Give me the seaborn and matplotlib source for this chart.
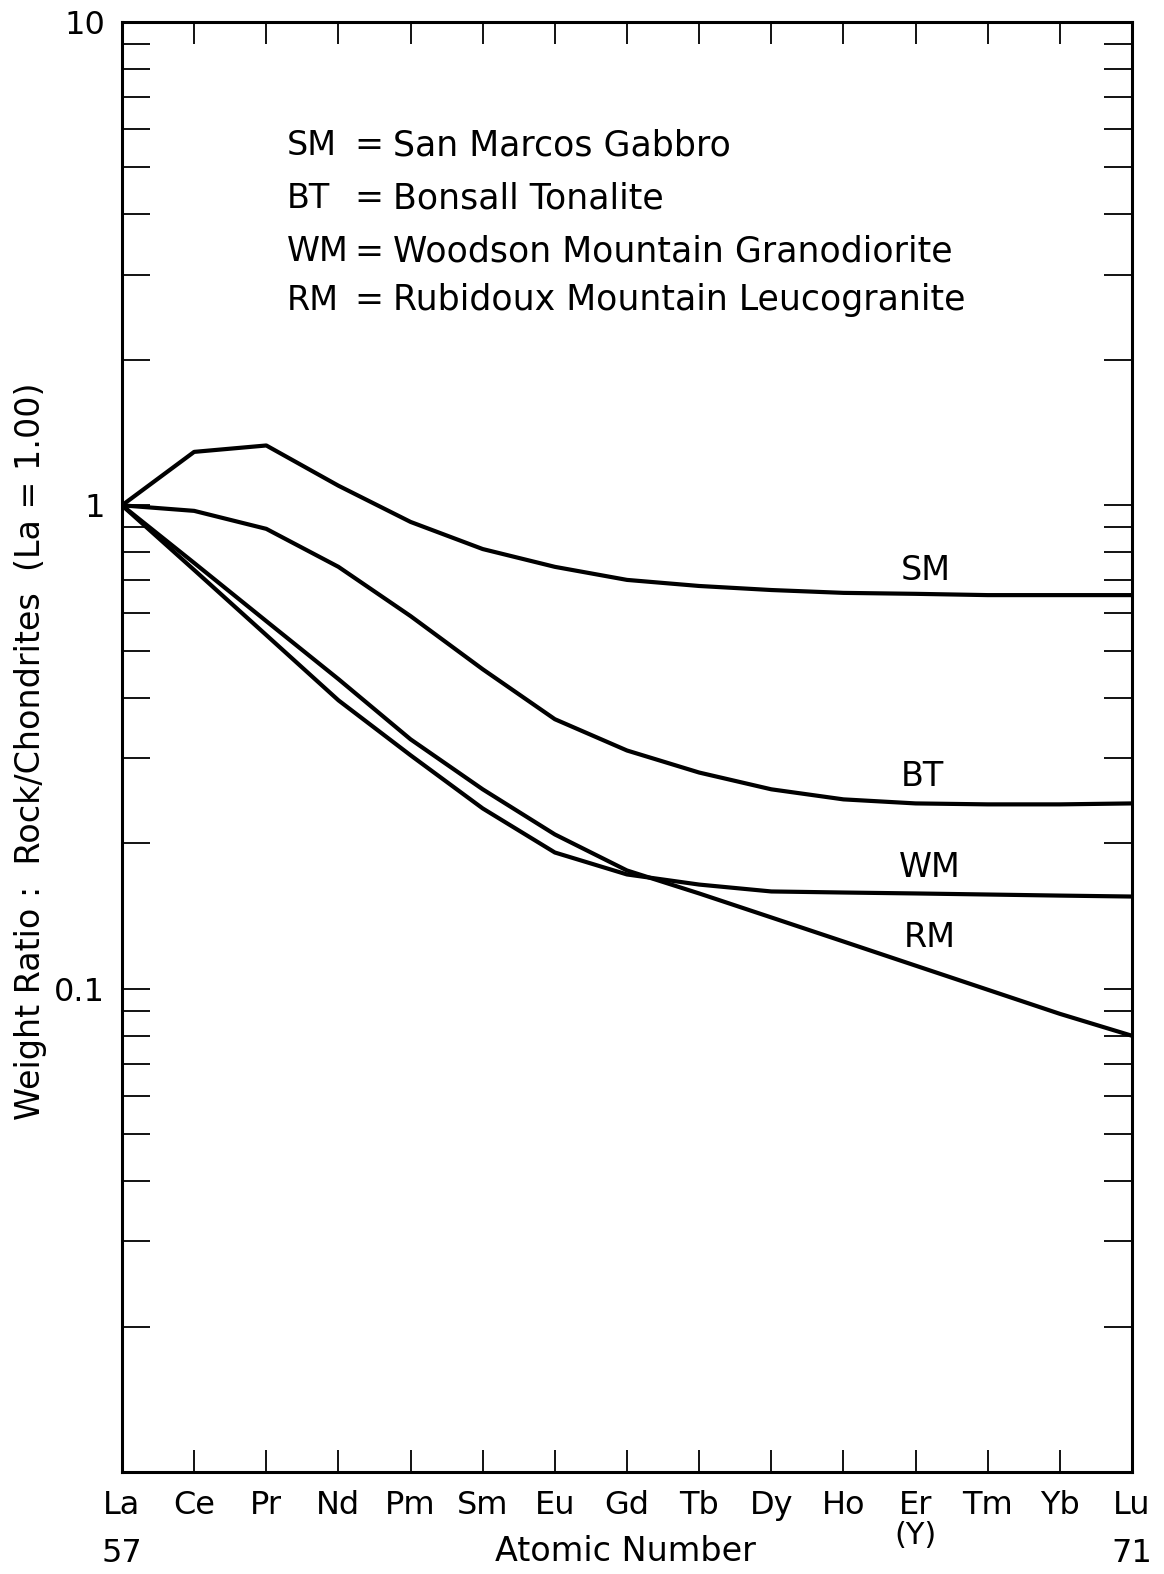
import numpy as np
import pandas as pd
import matplotlib
matplotlib.use("Agg")
import matplotlib.pyplot as plt
import matplotlib.ticker as mticker
import seaborn as sns

# ---- data ----
elements = ["La", "Ce", "Pr", "Nd", "Pm", "Sm", "Eu", "Gd", "Tb", "Dy", "Ho", "Er", "Tm", "Yb", "Lu"]
atomic_numbers = list(range(57, 72))
sm_values = [1.0, 1.29, 1.33, 1.098, 0.924, 0.812, 0.746, 0.701, 0.681, 0.668, 0.659, 0.656, 0.652, 0.652, 0.652]
bt_values = [1.0, 0.974, 0.894, 0.746, 0.590, 0.458, 0.361, 0.311, 0.280, 0.2585, 0.2464, 0.2417, 0.2406, 0.2406, 0.2417]
wm_values = [1.0, 0.735, 0.539, 0.395, 0.304, 0.236, 0.1913, 0.1723, 0.1642, 0.1589, 0.1581, 0.1574, 0.1566, 0.1558, 0.1551]
rm_values = [1.0, 0.760, 0.576, 0.437, 0.328, 0.2585, 0.2085, 0.1756, 0.1574, 0.1404, 0.1252, 0.1116, 0.0995, 0.0887, 0.0799]
series_names = ["SM", "BT", "WM", "RM"]
legend_names = ["San Marcos Gabbro", "Bonsall Tonalite",
                "Woodson Mountain Granodiorite", "Rubidoux Mountain Leucogranite"]
ytick_values = [0.1, 1, 10]
ytick_labels = ["0.1", "1", "10"]

df = pd.concat([
    pd.DataFrame({"z": atomic_numbers, "ratio": vals, "rock": name})
    for name, vals in zip(series_names, [sm_values, bt_values, wm_values, rm_values])
])

sns.set_style("ticks")
plt.rcParams["font.family"] = ["DejaVu Sans"]
plt.rcParams["text.color"] = "black"
plt.rcParams["axes.labelcolor"] = "black"
plt.rcParams["xtick.color"] = "black"
plt.rcParams["ytick.color"] = "black"

fig = plt.figure(figsize=(11.64, 15.74), dpi=100)
ax = fig.add_axes([122 / 1164, 1 - 1472 / 1574, 1010 / 1164, 1450 / 1574])

sns.lineplot(data=df, x="z", y="ratio", hue="rock", palette=["black"] * 4,
             legend=False, linewidth=3.0, ax=ax)

ax.set_yscale("log")
ax.set_ylim(0.01, 10)
ax.set_xlim(57, 71)

ax.set_yticks(ytick_values)
ax.set_yticklabels(ytick_labels)
ax.yaxis.set_minor_locator(mticker.LogLocator(base=10, subs=np.arange(2, 10)))
ax.yaxis.set_minor_formatter(mticker.NullFormatter())

ax.set_xticks(atomic_numbers)
ax.set_xticklabels(elements)

for s in ax.spines.values():
    s.set_visible(True)
    s.set_linewidth(2.2)
    s.set_color("black")

ax.tick_params(axis="y", which="both", direction="in", left=True, right=True,
               length=20, width=1.3, labelsize=23, pad=12, colors="black")
ax.tick_params(axis="x", which="both", direction="in", top=True, bottom=True,
               length=16, width=1.3, labelsize=23, pad=13, colors="black")

# Axis labels
ax.set_xlabel("Atomic Number", fontsize=24, color="black")
ax.xaxis.set_label_coords(0.498, -0.055)
ax.xaxis.label.set_va("center")
ax.set_ylabel("Weight Ratio :  Rock/Chondrites  (La = 1.00)", fontsize=24, color="black")
ax.yaxis.set_label_coords(-0.091, 0.497)
ax.yaxis.label.set_va("center")

# extra numbers under x labels
ax.text(57, -0.0565, "57", transform=ax.get_xaxis_transform(), ha="center", va="center", fontsize=23)
ax.text(71, -0.0565, "71", transform=ax.get_xaxis_transform(), ha="center", va="center", fontsize=23)
ax.text(68, -0.0435, "(Y)", transform=ax.get_xaxis_transform(), ha="center", va="center", fontsize=22)

# legend block
ys = [0.915, 0.8786, 0.8414, 0.808]
for y, ab, nm in zip(ys, series_names, legend_names):
    ax.text(0.163, y, ab, transform=ax.transAxes, ha="left", va="center", fontsize=24)
    ax.text(0.2445, y, "=", transform=ax.transAxes, ha="center", va="center", fontsize=25)
    ax.text(0.268, y, nm, transform=ax.transAxes, ha="left", va="center", fontsize=25)

# curve labels
curve_label_x = [68.14, 68.1, 68.2, 68.2]
curve_label_y = [0.732, 0.275, 0.178, 0.1275]
for ab, lx, ly in zip(series_names, curve_label_x, curve_label_y):
    ax.text(lx, ly, ab, ha="center", va="center", fontsize=24)

fig.savefig("out.png", dpi=100, facecolor="white")
